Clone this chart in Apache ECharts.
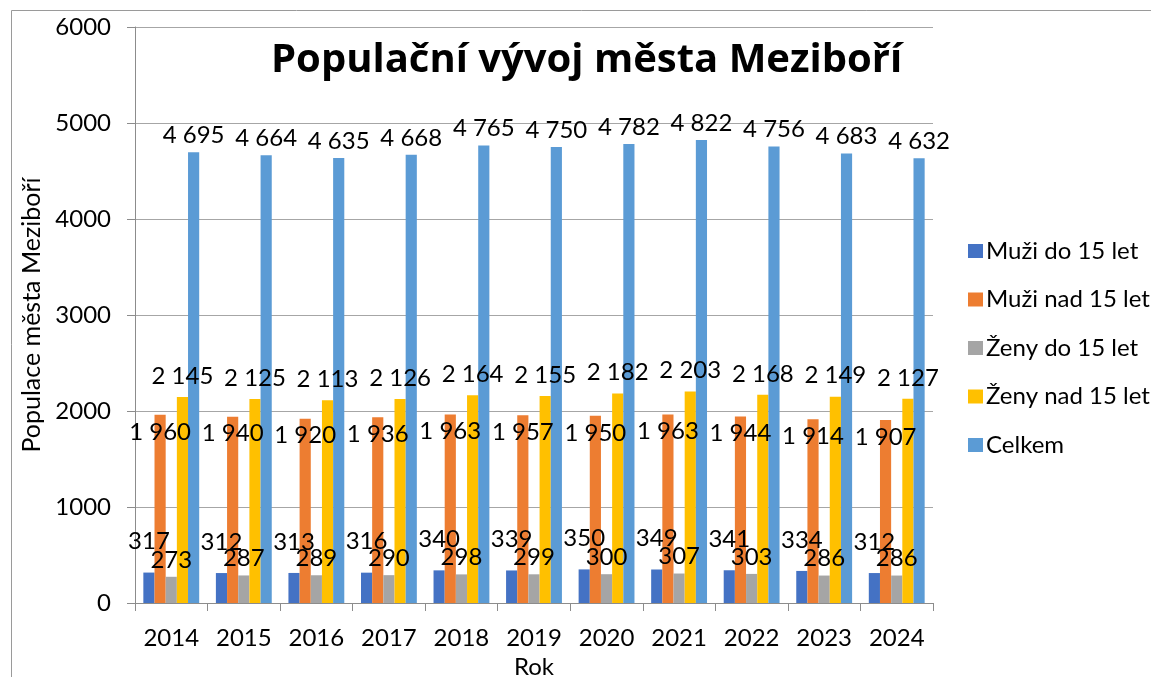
<!DOCTYPE html>
<html>
<head>
<meta charset="utf-8">
<script src="https://cdn.jsdelivr.net/npm/echarts@6/dist/echarts.min.js"></script>
<style>html,body{margin:0;padding:0;background:#fff;}#c{width:1151px;height:677px;}</style>
</head>
<body>
<div id="c"></div>
<script>
const years = ['2014','2015','2016','2017','2018','2019','2020','2021','2022','2023','2024'];
const seriesNames = ['Muži do 15 let','Muži nad 15 let','Ženy do 15 let','Ženy nad 15 let','Celkem'];
const muziDo15 = [317,312,313,316,340,339,350,349,341,334,312];
const muziNad15 = [1960,1940,1920,1936,1963,1957,1950,1963,1944,1914,1907];
const zenyDo15 = [273,287,289,290,298,299,300,307,303,286,286];
const zenyNad15 = [2145,2125,2113,2126,2164,2155,2182,2203,2168,2149,2127];
const celkem = [4695,4664,4635,4668,4765,4750,4782,4822,4756,4683,4632];
const yTicks = [0,1000,2000,3000,4000,5000,6000];

const colors = ['#4472C4','#ED7D31','#A5A5A5','#FFC000','#5B9BD5'];
const FONT = 'Lato';
const fmt = p => String(p.value).replace(/\B(?=(\d{3})+(?!\d))/g, ' ');

function mk(i, data, pos, dist) {
  return {
    name: seriesNames[i], type: 'bar', data: data,
    barGap: '0%', barCategoryGap: '23%',
    itemStyle: {color: colors[i]},
    label: {show: true, position: pos, distance: dist, formatter: fmt,
      color: '#000', fontFamily: FONT, fontSize: 24, lineHeight: 22},
    emphasis: {disabled: true}
  };
}

const chart = echarts.init(document.getElementById('c'));
chart.setOption({
  animation: false,
  color: colors,
  title: {
    text: 'Populační vývoj města Meziboří', left: 266, top: 36,
    textStyle: {fontFamily: 'Open Sans', fontWeight: 'bold', fontSize: 40, color: '#000'}
  },
  legend: {
    orient: 'vertical', left: 963, top: 234,
    itemWidth: 15, itemHeight: 14, itemGap: 24.5, icon: 'rect',
    textStyle: {fontFamily: FONT, fontSize: 24, color: '#000', lineHeight: 22, padding: [0,0,0,-2]},
    data: seriesNames
  },
  graphic: [{
    type: 'rect', shape: {x: 11.5, y: 10.5, width: 1200, height: 700},
    style: {fill: 'none', stroke: '#9a9a9a', lineWidth: 1}, silent: true, z: -1
  }],
  grid: {left: 135, right: 218, top: 27, bottom: 74, containLabel: false, outerBoundsMode: 'none'},
  xAxis: {
    type: 'category', data: years,
    name: 'Rok', nameLocation: 'middle', nameGap: 47,
    nameTextStyle: {fontFamily: FONT, fontSize: 24, color: '#000'},
    axisLine: {lineStyle: {color: '#8c8c8c'}},
    axisTick: {show: true, length: 8, lineStyle: {color: '#8c8c8c'}},
    axisLabel: {fontFamily: FONT, fontSize: 24, color: '#000', margin: 23}
  },
  yAxis: {
    type: 'value', min: yTicks[0], max: yTicks[yTicks.length-1], interval: 1000,
    name: 'Populace města Meziboří', nameLocation: 'middle', nameGap: 85, nameRotate: 90,
    nameTextStyle: {fontFamily: FONT, fontSize: 25, color: '#000'},
    axisLine: {show: true, lineStyle: {color: '#8c8c8c'}},
    axisTick: {show: true, length: 8, lineStyle: {color: '#8c8c8c'}},
    splitLine: {lineStyle: {color: '#a6a6a6'}},
    axisLabel: {fontFamily: FONT, fontSize: 24, color: '#000', margin: 24,
      formatter: v => yTicks.includes(v) ? String(v) : ''}
  },
  series: [
    mk(0, muziDo15, 'top', 20),
    mk(1, muziNad15, 'insideTop', 6),
    mk(2, zenyDo15, 'top', 6),
    mk(3, zenyNad15, 'top', 10),
    mk(4, celkem, 'top', 6)
  ]
});
</script>
</body>
</html>
